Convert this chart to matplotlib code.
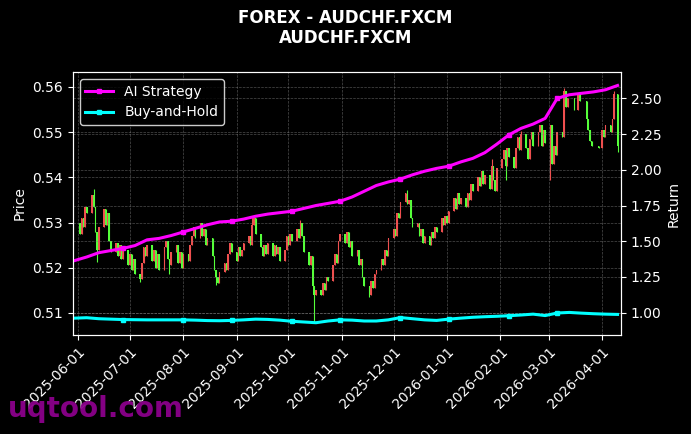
import matplotlib.pyplot as plt
import matplotlib.dates as mdates
import numpy as np
import pandas as pd

# daily closes, one row per week (Mon..Fri), 2025-06-02 .. 2026-04-10; nan = no candle
closes = [
    0.5275, 0.5310, 0.5290, 0.5335, 0.5320,
    0.5360, 0.5335, 0.5280, 0.5240, 0.5290,
    0.5330, 0.5295, 0.5320, 0.5260, 0.5235,
    0.5255, 0.5225, 0.5250, 0.5220, 0.5240,
    0.5205, 0.5230, 0.5195, 0.5220, 0.5185,
    0.5175, 0.5210, 0.5245, 0.5225, 0.5250,
    0.5215, 0.5240, 0.5200, 0.5230, 0.5195,
    0.5245, 0.5260, 0.5220, 0.5205, 0.5235,
    0.5250, 0.5210, 0.5235, 0.5200, 0.5230,
    0.5215, 0.5250, 0.5270, 0.5290, 0.5265,
    0.5300, 0.5270, 0.5285, 0.5250, 0.5265,
    0.5225, 0.5195, 0.5180, 0.5165, 0.5190,
    0.5210, 0.5195, 0.5230, 0.5255, 0.5235,
    0.5215, 0.5245, 0.5225, 0.5240, 0.5255,
    0.5270, 0.5250, 0.5295, 0.5310, 0.5275,
    0.5245, 0.5225, 0.5250, 0.5230, 0.5255,
    0.5225, 0.5250, 0.5230, 0.5245, 0.5215,
    0.5240, 0.5270, 0.5250, 0.5275, 0.5260,
    0.5285, 0.5265, 0.5300, 0.5270, 0.5235,
    0.5205, 0.5225, 0.5160, 0.5140, 0.5150,
    0.5140, 0.5165, 0.5150, 0.5180, 0.5170,
    0.5205, 0.5230, 0.5210, 0.5260, 0.5275,
    0.5255, 0.5280, 0.5245, 0.5260, 0.5225,
    0.5240, 0.5205, 0.5220, 0.5180, 0.5160,
    0.5140, 0.5170, 0.5155, 0.5185, 0.5195,
    0.5220, 0.5205, 0.5240, 0.5225, 0.5265,
    0.5285, 0.5270, 0.5320, 0.5310, 0.5345,
    0.5365, 0.5340, 0.5350, 0.5310, 0.5290,
    0.5300, 0.5270, 0.5285, 0.5255, 0.5270,
    0.5250, 0.5280, 0.5265, 0.5290, 0.5280,
    0.5310, 0.5295, 0.5315, 0.5300, 0.5325,
    0.5355, 0.5330, 0.5365, 0.5340, 0.5355,
    0.5335, 0.5365, 0.5350, 0.5385, 0.5370,
    0.5400, 0.5380, 0.5415, 0.5385, 0.5405,
    0.5375, 0.5425, 0.5395, 0.5370, 0.5420,
    0.5440, 0.5460, 0.5425, 0.5465, 0.5445,
    0.5420, 0.5465, 0.5490, 0.5460, 0.5495,
    0.5465, 0.5440, 0.5485, 0.5500, 0.5470,
    0.5500, 0.5515, 0.5470, 0.5505, 0.5475,
    0.5515, 0.5430, 0.5470, 0.5450, 0.5500,
    0.5490, 0.5590, 0.5555, 0.5575, np.nan,
    0.5550, np.nan, 0.5585, 0.5570, np.nan,
    0.5530, 0.5505, 0.5480, 0.5470, np.nan,
    0.5465, np.nan, 0.5505, 0.5490, 0.5515,
    0.5500, 0.5530, 0.5585, np.nan, 0.5470,
]

# long wicks that stand out in the picture
wick_highs = {'2025-06-10': 0.5375, '2025-12-09': 0.5372, '2026-03-10': 0.5597,
              '2026-04-08': 0.5592, '2026-02-13': 0.5502, '2026-01-27': 0.5440,
              '2025-10-08': 0.5305, '2025-09-10': 0.5312}
wick_lows = {'2025-06-12': 0.5213, '2025-07-07': 0.5168, '2025-08-20': 0.5162,
             '2025-10-16': 0.5078, '2025-11-17': 0.5135, '2026-03-02': 0.5394,
             '2026-04-10': 0.5455, '2026-02-04': 0.5395, '2025-07-24': 0.5185}

# strategy curves, sampled on Fridays
ret_dates = pd.date_range('2025-05-30', '2026-04-10', freq='W-FRI')
ai_strategy = [
    1.365, 1.39, 1.42, 1.435, 1.45, 1.47, 1.51, 1.52, 1.54, 1.565,
    1.59, 1.615, 1.635, 1.64, 1.655, 1.675, 1.69, 1.70, 1.71, 1.73,
    1.75, 1.765, 1.78, 1.81, 1.85, 1.89, 1.915, 1.935, 1.965, 1.99,
    2.01, 2.025, 2.055, 2.08, 2.12, 2.18, 2.245, 2.29, 2.32, 2.36,
    2.50, 2.525, 2.535, 2.545, 2.56, 2.59,
]
buy_hold = [
    0.962, 0.965, 0.958, 0.955, 0.952, 0.951, 0.950, 0.950, 0.950, 0.950,
    0.948, 0.945, 0.944, 0.946, 0.950, 0.955, 0.953, 0.948, 0.940, 0.935,
    0.930, 0.942, 0.950, 0.948, 0.942, 0.942, 0.950, 0.966, 0.958, 0.950,
    0.946, 0.955, 0.962, 0.968, 0.972, 0.975, 0.979, 0.984, 0.990, 0.980,
    0.998, 1.002, 0.997, 0.993, 0.990, 0.988,
]

dates = pd.bdate_range('2025-06-02', '2026-04-10')
df = pd.DataFrame({'close': closes}, index=dates)
df['open'] = df['close'].ffill().shift(1)
df.loc[df.index[0], 'open'] = 0.5300
df = df.dropna()
df['high'] = df[['open', 'close']].max(axis=1)
df['low'] = df[['open', 'close']].min(axis=1)
for d, v in wick_highs.items():
    if pd.Timestamp(d) in df.index:
        df.loc[pd.Timestamp(d), 'high'] = v
for d, v in wick_lows.items():
    if pd.Timestamp(d) in df.index:
        df.loc[pd.Timestamp(d), 'low'] = v

plt.rcParams['font.family'] = 'DejaVu Sans'
fig = plt.figure(figsize=(6.91, 4.34), dpi=100, facecolor='black')
ax = fig.add_axes([0.1056, 0.2281, 0.7931, 0.6059])
ax.set_facecolor('black')

up = df['close'] >= df['open']
colors = np.where(up, '#ef4f4f', '#55ff3a')
x = mdates.date2num(df.index)
ax.vlines(x, df['low'], df['high'], colors=colors, linewidth=0.8)
body = (df['close'] - df['open']).abs().clip(lower=0.0002)
ax.bar(x, body, bottom=df[['open', 'close']].min(axis=1), width=0.9,
       color=colors, linewidth=0)

ax.set_xlim(mdates.datestr2num('2025-05-29'), mdates.datestr2num('2026-04-12'))
ax.set_ylim(0.5051, 0.5633)
ax.set_ylabel('Price', color='white')
ax.xaxis.set_major_locator(mdates.MonthLocator())
ax.xaxis.set_major_formatter(mdates.DateFormatter('%Y-%m-%d'))
plt.setp(ax.get_xticklabels(), rotation=45, ha='right', rotation_mode='anchor')
ax.grid(True, color='gray', linestyle='--', linewidth=0.5, alpha=0.6)

ax2 = ax.twinx()
marks = [4, 9, 13, 18, 22, 27, 31, 36, 40]
ax2.plot(ret_dates, ai_strategy, color='magenta', linewidth=2.2,
         marker='s', markersize=3.5, markevery=marks, label='AI Strategy')
ax2.plot(ret_dates, buy_hold, color='cyan', linewidth=2.2,
         marker='s', markersize=3.5, markevery=marks, label='Buy-and-Hold')
ax2.set_ylim(0.844, 2.684)
ax2.set_ylabel('Return', color='white')
ax2.grid(True, color='gray', linestyle='--', linewidth=0.5, alpha=0.6)

for a in (ax, ax2):
    a.tick_params(colors='white', labelsize=10)
    for s in a.spines.values():
        s.set_color('white')

leg = ax2.legend(loc='upper left', facecolor='black', edgecolor='white',
                 labelcolor='white', fontsize=10)

fig.text(0.5, 0.958, 'FOREX - AUDCHF.FXCM', ha='center', va='center',
         color='white', fontsize=12, fontweight='bold')
fig.text(0.5, 0.912, 'AUDCHF.FXCM', ha='center', va='center',
         color='white', fontsize=12, fontweight='bold')
fig.text(0.012, 0.058, 'uqtool.com', ha='left', va='center', color='#8b008b',
         fontsize=20, fontweight='bold', alpha=0.95)

plt.savefig('out.png', dpi=100, facecolor='black')
